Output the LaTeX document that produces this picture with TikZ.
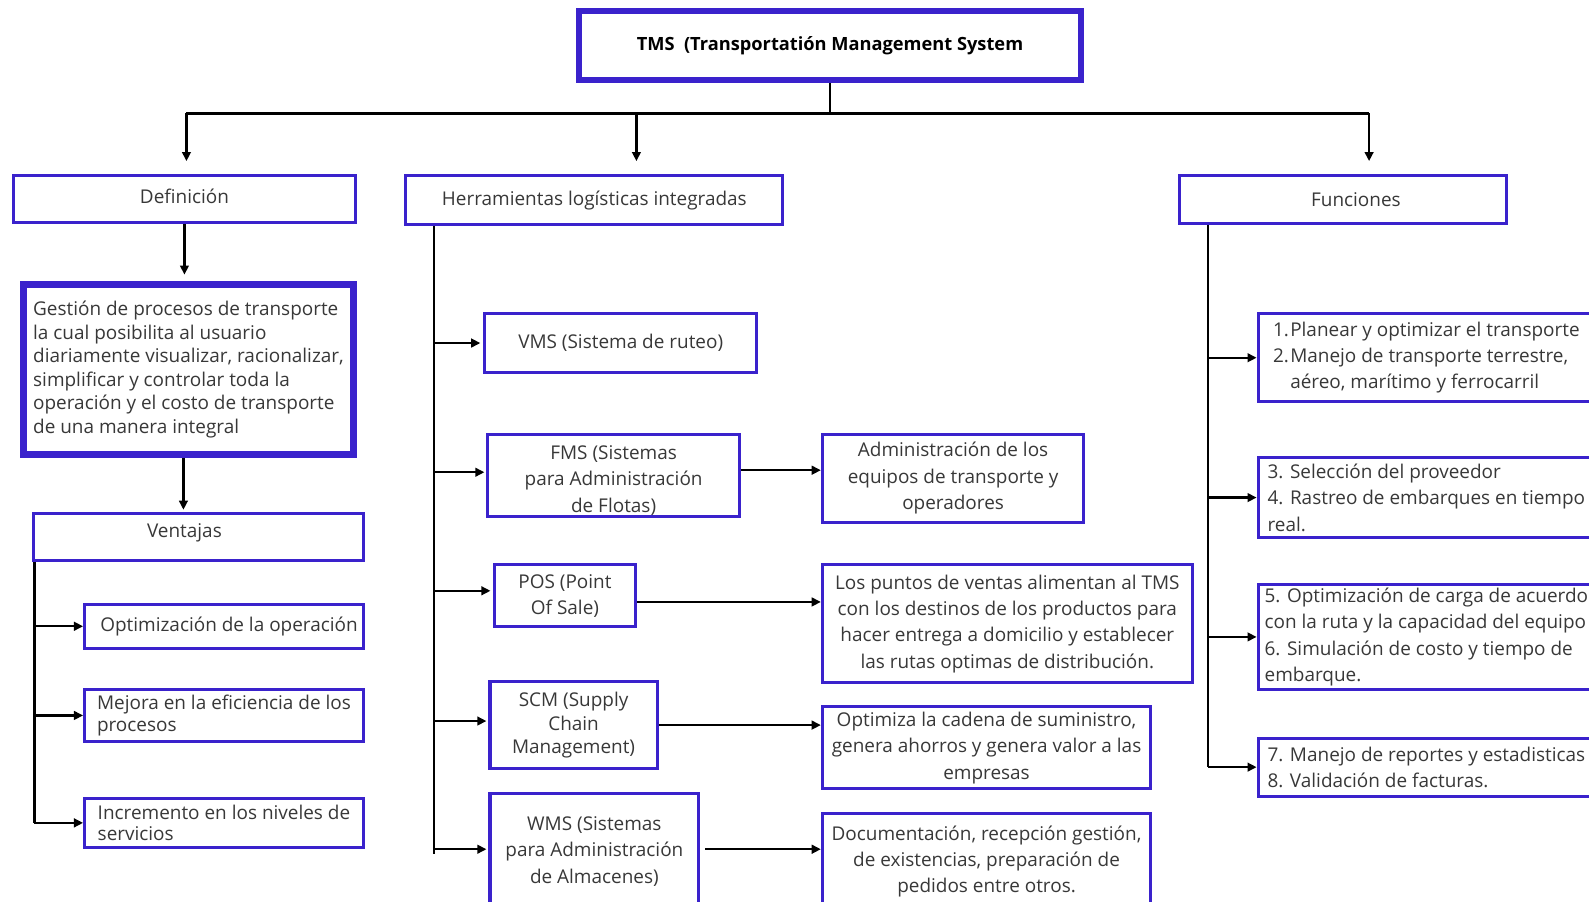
\documentclass[tikz,border=0pt]{standalone}
\usepackage{fontspec}
\setmainfont{Open Sans}
\usetikzlibrary{arrows.meta}
\definecolor{bord}{RGB}{58,34,204}
\definecolor{ink}{RGB}{56,56,56}
% shift the ink of a text vertically while keeping its box extents
\newcommand{\vmove}[2]{\raisebox{#1}[\height][\depth]{#2}}

\begin{document}
\begin{tikzpicture}[x=1pt,y=-1pt,
  box/.style={draw=bord, line width=3pt, inner sep=0pt, text=ink,
    font=\fontsize{18.7}{23}\selectfont},
  thickbox/.style={box, line width=7pt},
  sp21/.style={font=\fontsize{18.7}{21}\selectfont},
  sp23/.style={font=\fontsize{18.7}{23.2}\selectfont},
  sp26/.style={font=\fontsize{18.7}{26}\selectfont},
  link/.style={line width=2.4pt, draw=black},
  arr/.style={link, -{Triangle[length=9pt,width=8.5pt]}},
]
\useasboundingbox[fill=white] (0,0) rectangle (1568,890);

% ---- root ----
\node[thickbox, line width=6pt, minimum width=496pt, minimum height=68pt,
      text=black, font=\bfseries\fontsize{18}{20}\selectfont]
  (title) at (819,45) {TMS\ \ (Transportatión Management System};

% ---- first level ----
\node[box, minimum width=337pt, minimum height=46pt] (def) at (182,196.5) {\vmove{3pt}{Definición}};
\node[box, minimum width=372pt, minimum height=48pt] (herr) at (586.5,197.5) {Herramientas logísticas integradas};
\node[box, minimum width=323pt, minimum height=47pt] (fun) at (1325,197) {\hspace*{26pt}Funciones};

% ---- definition branch ----
\node[thickbox, sp23, align=left, minimum width=325pt, minimum height=168pt] (gest) at (186,364.5)
  {Gestión de procesos de transporte\\la cual posibilita al usuario\\diariamente visualizar, racionalizar,\\simplificar y controlar toda la\\operación y el costo de transporte\\de una manera integral};
\node[box, minimum width=325pt, minimum height=47pt] (vent) at (196,530) {\hspace*{-28pt}\vmove{4pt}{Ventajas}};
\node[box, minimum width=275pt, minimum height=43pt] (opt) at (221,618) {\hspace*{10pt}Optimización de la operación};
\node[box, sp21, align=left, minimum width=275pt, minimum height=51pt] (mej) at (221,706)
  {Mejora en la eficiencia de los\\procesos};
\node[box, sp21, align=left, minimum width=275pt, minimum height=49pt] (inc) at (221,812)
  {Incremento en los niveles de\\servicios};

% ---- tools branch ----
\node[box, minimum width=268pt, minimum height=58pt] (vms) at (612.5,338.5) {VMS (Sistema de ruteo)};
\node[box, sp26, minimum width=248pt, minimum height=81pt] (fms) at (605.5,469)
  {\vmove{-5pt}{\parbox{240pt}{\centering FMS (Sistemas\\para Administración\\de Flotas)}}};
\node[box, sp26, align=center, minimum width=258pt, minimum height=87pt] (adm) at (940.5,472)
  {Administración de los\\equipos de transporte y\\operadores};
\node[box, sp26, align=center, minimum width=140pt, minimum height=61pt] (pos) at (557.5,588)
  {POS (Point\\Of Sale)};
\node[box, sp26, align=center, minimum width=365pt, minimum height=116pt] (pts) at (994,615.5)
  {Los puntos de ventas alimentan al TMS\\con los destinos de los productos para\\hacer entrega a domicilio y establecer\\las rutas optimas de distribución.};
\node[box, font=\fontsize{18.7}{23.5}\selectfont, align=center, minimum width=165pt, minimum height=86pt] (scm) at (566,715.5)
  {SCM (Supply\\Chain\\Management)};
\node[box, sp26, align=center, minimum width=324pt, minimum height=81pt] (opz) at (973.5,738)
  {Optimiza la cadena de suministro,\\genera ahorros y genera valor a las\\empresas};
\node[box, sp26, minimum width=206pt, minimum height=120pt] (wms) at (586.5,843)
  {\vmove{3pt}{\parbox{200pt}{\centering WMS (Sistemas\\para Administración\\de Almacenes)}}};
\node[box, sp26, minimum width=324pt, minimum height=100pt] (doc) at (973.5,853)
  {\vmove{3pt}{\parbox{320pt}{\centering Documentación, recepción gestión,\\de existencias, preparación de\\pedidos entre otros.}}};

% ---- functions branch ----
\node[box, sp26, align=left, minimum width=332pt, minimum height=87pt] (f1) at (1407.5,353)
  {\makebox[17pt][l]{1.}Planear y optimizar el transporte\\\makebox[17pt][l]{2.}Manejo de transporte terrestre,\\\hspace*{17pt}aéreo, marítimo y ferrocarril};
\node[box, sp26, align=left, minimum width=332pt, minimum height=79pt] (f2) at (1407.5,491)
  {3. Selección del proveedor\\4. Rastreo de embarques en tiempo\\real.};
\node[box, sp26, align=left, minimum width=332pt, minimum height=104pt] (f3) at (1407.5,628.5)
  {5. Optimización de carga de acuerdo\\con la ruta y la capacidad del equipo\\6. Simulación de costo y tiempo de\\embarque.};
\node[box, sp26, align=left, minimum width=332pt, minimum height=57pt] (f4) at (1407.5,757)
  {7. Manejo de reportes y estadisticas\\8. Validación de facturas.};

% ---- top distribution ----
\coordinate (hub) at (819,112);
\coordinate (jl) at (184,112);
\coordinate (jm) at (628,112);
\coordinate (jr) at (1351,112);
\draw[link] (title.south) -- (hub);
\draw[link] (jl) -- (jr);
\draw[arr, shorten >=13pt] (jl) -- (jl |- def.north);
\draw[arr, shorten >=13pt] (jm) -- (jm |- herr.north);
\draw[arr, shorten >=13pt] (jr) -- (jr |- fun.north);

% ---- definition chain ----
\draw[arr, shorten >=6pt] (def.south) -- (def.south |- gest.north);
\draw[arr, shorten >=2pt] ([xshift=-5pt]gest.south) -- ([xshift=-5pt]gest.south |- vent.north);

% ---- advantages ----
\coordinate (vt) at ([xshift=2pt]vent.south west);
\draw[link] (vt) -- (vt |- inc.west);
\draw[arr] (vt |- opt.west) -- (opt.west);
\draw[arr] (vt |- mej.west) -- (mej.west);
\draw[arr] (vt |- inc.west) -- (inc.west);

% ---- tools ----
\coordinate (ht) at (herr.south -| 428,0);
\draw[link] (ht) -- (ht |- wms.west);
\draw[arr, shorten >=3pt] (ht |- vms.west) -- (vms.west);
\draw[arr, shorten >=2pt] ([yshift=3pt]ht |- fms.west) -- ([yshift=3pt]fms.west);
\draw[arr, shorten >=2pt] ([yshift=5pt]ht |- pos.west) -- ([yshift=5pt]pos.west);
\draw[arr, shorten >=2pt] ([yshift=4pt]ht |- scm.west) -- ([yshift=4pt]scm.west);
\draw[arr, shorten >=2pt] ([yshift=5pt]ht |- wms.west) -- ([yshift=5pt]wms.west);
\draw[arr] ([yshift=5pt]fms.east) -- ([yshift=5pt]fms.east -| adm.west);
\draw[arr] ([yshift=-6pt]pos.east) -- ([yshift=-6pt]pos.east -| pts.west);
\draw[arr] (scm.east) -- (scm.east -| opz.west);
\draw[arr, shorten <=5pt] ([yshift=5pt]wms.east) -- ([yshift=5pt]wms.east -| doc.west);

% ---- functions ----
\coordinate (ft) at (fun.south -| 1192,0);
\draw[link] (ft) -- (ft |- f4.west);
\draw[arr] (ft |- f1.west) -- (f1.west);
\draw[arr] (ft |- f2.west) -- (f2.west);
\draw[arr] (ft |- f3.west) -- (f3.west);
\draw[arr] (ft |- f4.west) -- (f4.west);
\end{tikzpicture}
\end{document}
